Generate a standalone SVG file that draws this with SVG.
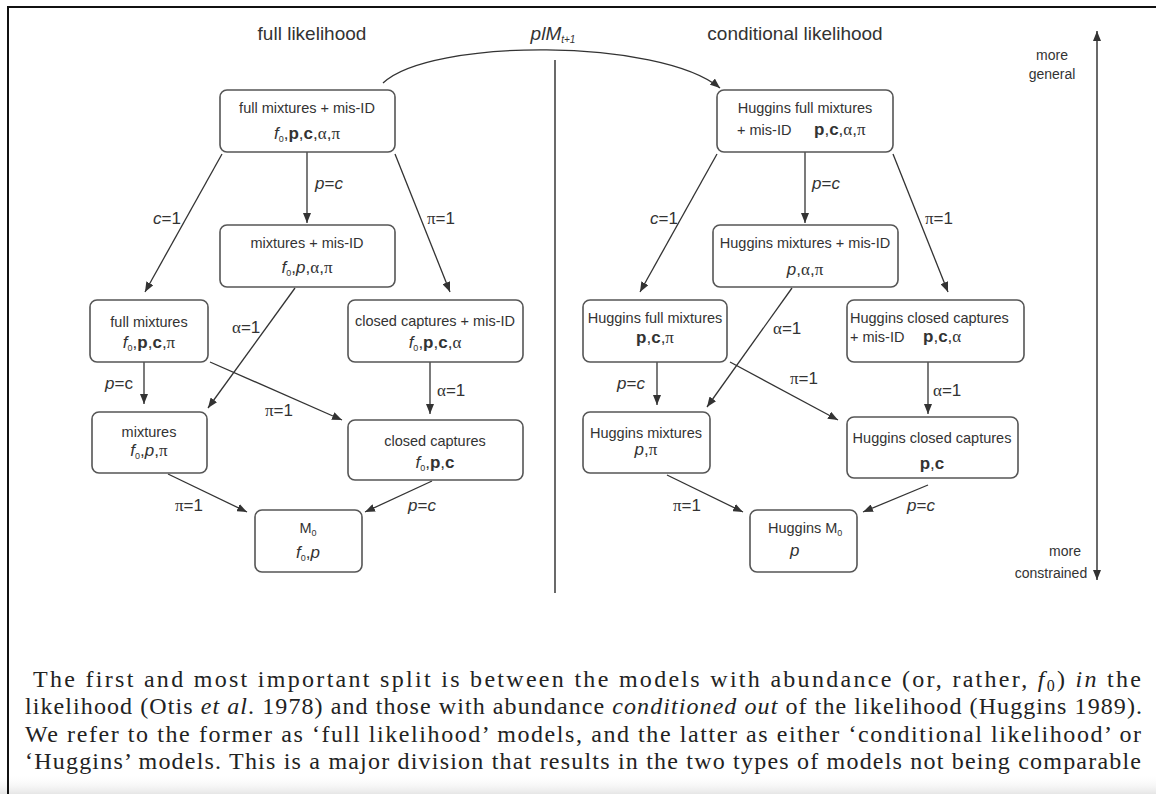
<svg xmlns="http://www.w3.org/2000/svg" width="1156" height="794" viewBox="0 0 1156 794">
<defs>
<style>
.n{font-family:"Liberation Sans",Arial,sans-serif;font-size:14.5px;fill:#333;text-anchor:middle}
.nl{font-family:"Liberation Sans",Arial,sans-serif;font-size:14.5px;fill:#333}
.m{font-family:"Liberation Sans",Arial,sans-serif;font-size:17px;fill:#333;text-anchor:middle}
.ml{font-family:"Liberation Sans",Arial,sans-serif;font-size:17px;fill:#333}
.g{font-family:"Liberation Serif","Times New Roman",serif}
.i{font-style:italic}
.b{font-weight:bold}
.lbl{font-family:"Liberation Sans",Arial,sans-serif;font-size:17px;fill:#333}
.ttl{font-family:"Liberation Sans",Arial,sans-serif;font-size:19px;fill:#333;text-anchor:middle}
.side{font-family:"Liberation Sans",Arial,sans-serif;font-size:14px;fill:#333;text-anchor:middle}
.box{fill:#fff;stroke:#555;stroke-width:1.6}
.e{stroke:#333;stroke-width:1.3;fill:none;marker-end:url(#ah)}
.para{font-family:"Liberation Serif","Times New Roman",serif;font-size:24px;fill:#222}
</style>
<marker id="ah" viewBox="0 0 10 8" refX="10" refY="4" markerWidth="10" markerHeight="8" orient="auto-start-reverse" markerUnits="userSpaceOnUse">
<path d="M0,0 L10,4 L0,8 z" fill="#333"/>
</marker>
<linearGradient id="fade" x1="0" y1="0" x2="0" y2="1">
<stop offset="0" stop-color="#fff" stop-opacity="0"/>
<stop offset="1" stop-color="#e6e6e6"/>
</linearGradient>
</defs>
<rect x="0" y="0" width="1156" height="794" fill="#fff"/>
<rect x="0" y="774" width="1156" height="20" fill="url(#fade)"/>
<path d="M8,794 L8,7 L1156,7" fill="none" stroke="#111" stroke-width="2"/>

<!-- titles -->
<text class="ttl" x="312" y="40">full likelihood</text>
<text class="ttl" x="795" y="40">conditional likelihood</text>
<text class="ttl i" x="553" y="40">plM<tspan font-size="10" dy="3">t+1</tspan></text>
<text class="side" x="1052" y="60">more</text>
<text class="side" x="1052" y="79">general</text>
<text class="side" x="1065" y="556">more</text>
<text class="side" x="1051" y="578">constrained</text>

<!-- divider -->
<line x1="555" y1="60" x2="555" y2="593" stroke="#444" stroke-width="1.6"/>

<g id="connectors">
<path class="e" d="M383,83 C430,38 660,38 720,88"/>
<line x1="1097" y1="31" x2="1097" y2="580" stroke="#444" stroke-width="1.6" marker-start="url(#ah)" marker-end="url(#ah)"/>
<!-- left -->
<line class="e" x1="222" y1="154" x2="145" y2="292"/>
<line class="e" x1="307" y1="152" x2="307" y2="223"/>
<line class="e" x1="395" y1="154" x2="450" y2="292"/>
<line class="e" x1="295" y1="288" x2="208" y2="408"/>
<line class="e" x1="144" y1="362" x2="144" y2="404"/>
<line class="e" x1="210" y1="362" x2="342" y2="420"/>
<line class="e" x1="430" y1="362" x2="430" y2="414"/>
<line class="e" x1="168" y1="474" x2="247" y2="512"/>
<line class="e" x1="432" y1="481" x2="365" y2="512"/>
<!-- right -->
<line class="e" x1="717" y1="154" x2="640" y2="292"/>
<line class="e" x1="805" y1="152" x2="805" y2="223"/>
<line class="e" x1="893" y1="154" x2="948" y2="292"/>
<line class="e" x1="792" y1="288" x2="707" y2="407"/>
<line class="e" x1="657" y1="362" x2="657" y2="405"/>
<line class="e" x1="730" y1="362" x2="838" y2="420"/>
<line class="e" x1="928" y1="362" x2="928" y2="414"/>
<line class="e" x1="667" y1="475" x2="743" y2="512"/>
<line class="e" x1="928" y1="485" x2="863" y2="512"/>
</g>

<g id="edge-labels">
<text class="lbl" x="153" y="224"><tspan class="i">c</tspan>=1</text>
<text class="lbl" x="315" y="189"><tspan class="i">p</tspan>=<tspan class="i">c</tspan></text>
<text class="lbl" x="427" y="224"><tspan class="g">π</tspan>=1</text>
<text class="lbl" x="232" y="333"><tspan class="g">α</tspan>=1</text>
<text class="lbl" x="105" y="389"><tspan class="i">p</tspan>=c</text>
<text class="lbl" x="265" y="416"><tspan class="g">π</tspan>=1</text>
<text class="lbl" x="437" y="396"><tspan class="g">α</tspan>=1</text>
<text class="lbl" x="175" y="511"><tspan class="g">π</tspan>=1</text>
<text class="lbl" x="408" y="511"><tspan class="i">p</tspan>=<tspan class="i">c</tspan></text>
<text class="lbl" x="650" y="224"><tspan class="i">c</tspan>=1</text>
<text class="lbl" x="812" y="189"><tspan class="i">p</tspan>=<tspan class="i">c</tspan></text>
<text class="lbl" x="925" y="224"><tspan class="g">π</tspan>=1</text>
<text class="lbl" x="773" y="334"><tspan class="g">α</tspan>=1</text>
<text class="lbl" x="617" y="389"><tspan class="i">p</tspan>=<tspan class="i">c</tspan></text>
<text class="lbl" x="790" y="384"><tspan class="g">π</tspan>=1</text>
<text class="lbl" x="933" y="396"><tspan class="g">α</tspan>=1</text>
<text class="lbl" x="673" y="511"><tspan class="g">π</tspan>=1</text>
<text class="lbl" x="907" y="511"><tspan class="i">p</tspan>=<tspan class="i">c</tspan></text>
</g>

<!-- left nodes -->
<g id="full-mixtures-misid">
<rect class="box" x="220" y="90" width="175" height="62" rx="7"/>
<text class="n" x="307" y="113">full mixtures + mis-ID</text>
<text class="m" x="307" y="139"><tspan class="i">f</tspan><tspan font-size="9" dy="3">0</tspan><tspan dy="-3">,</tspan><tspan class="b">p</tspan>,<tspan class="b">c</tspan>,<tspan class="g">α</tspan>,<tspan class="g">π</tspan></text>
</g>
<g id="mixtures-misid">
<rect class="box" x="220" y="225" width="175" height="62" rx="7"/>
<text class="n" x="307" y="248">mixtures + mis-ID</text>
<text class="m" x="307" y="273"><tspan class="i">f</tspan><tspan font-size="9" dy="3">0</tspan><tspan dy="-3">,</tspan><tspan class="i">p</tspan>,<tspan class="g">α</tspan>,<tspan class="g">π</tspan></text>
</g>
<g id="full-mixtures">
<rect class="box" x="90" y="300" width="118" height="62" rx="7"/>
<text class="n" x="149" y="327">full mixtures</text>
<text class="m" x="149" y="348"><tspan class="i">f</tspan><tspan font-size="9" dy="3">0</tspan><tspan dy="-3">,</tspan><tspan class="b">p</tspan>,<tspan class="b">c</tspan>,<tspan class="g">π</tspan></text>
</g>
<g id="closed-captures-misid">
<rect class="box" x="348" y="300" width="175" height="62" rx="7"/>
<text class="n" x="435" y="326">closed captures + mis-ID</text>
<text class="m" x="435" y="348"><tspan class="i">f</tspan><tspan font-size="9" dy="3">0</tspan><tspan dy="-3">,</tspan><tspan class="b">p</tspan>,<tspan class="b">c</tspan>,<tspan class="g">α</tspan></text>
</g>
<g id="mixtures">
<rect class="box" x="92" y="412" width="115" height="61" rx="7"/>
<text class="n" x="149" y="437">mixtures</text>
<text class="m" x="149" y="456"><tspan class="i">f</tspan><tspan font-size="9" dy="3">0</tspan><tspan dy="-3">,</tspan><tspan class="i">p</tspan>,<tspan class="g">π</tspan></text>
</g>
<g id="closed-captures">
<rect class="box" x="348" y="420" width="175" height="60" rx="7"/>
<text class="n" x="435" y="446">closed captures</text>
<text class="m" x="435" y="468"><tspan class="i">f</tspan><tspan font-size="9" dy="3">0</tspan><tspan dy="-3">,</tspan><tspan class="b">p</tspan>,<tspan class="b">c</tspan></text>
</g>
<g id="m0">
<rect class="box" x="255" y="510" width="107" height="62" rx="7"/>
<text class="n" x="308" y="533">M<tspan font-size="9" dy="3">0</tspan></text>
<text class="m" x="308" y="558"><tspan class="i">f</tspan><tspan font-size="9" dy="3">0</tspan><tspan dy="-3">,</tspan><tspan class="i">p</tspan></text>
</g>

<!-- right nodes -->
<g id="huggins-full-mixtures-misid">
<rect class="box" x="717" y="90" width="176" height="62" rx="7"/>
<text class="n" x="805" y="113">Huggins full mixtures</text>
<text class="nl" x="737" y="135">+ mis-ID</text>
<text class="ml" x="814" y="135"><tspan class="b">p</tspan>,<tspan class="b">c</tspan>,<tspan class="g">α</tspan>,<tspan class="g">π</tspan></text>
</g>
<g id="huggins-mixtures-misid">
<rect class="box" x="713" y="225" width="185" height="62" rx="7"/>
<text class="n" x="805" y="248">Huggins mixtures + mis-ID</text>
<text class="m" x="805" y="275"><tspan class="i">p</tspan>,<tspan class="g">α</tspan>,<tspan class="g">π</tspan></text>
</g>
<g id="huggins-full-mixtures">
<rect class="box" x="583" y="300" width="144" height="62" rx="7"/>
<text class="n" x="655" y="323">Huggins full mixtures</text>
<text class="m" x="655" y="343"><tspan class="b">p</tspan>,<tspan class="b">c</tspan>,<tspan class="g">π</tspan></text>
</g>
<g id="huggins-closed-captures-misid">
<rect class="box" x="847" y="300" width="177" height="62" rx="7"/>
<text class="nl" x="850" y="323">Huggins closed captures</text>
<text class="nl" x="850" y="342">+ mis-ID</text>
<text class="ml" x="923" y="342"><tspan class="b">p</tspan>,<tspan class="b">c</tspan>,<tspan class="g">α</tspan></text>
</g>
<g id="huggins-mixtures">
<rect class="box" x="583" y="412" width="127" height="61" rx="7"/>
<text class="n" x="646" y="438">Huggins mixtures</text>
<text class="m" x="646" y="455"><tspan class="i">p</tspan>,<tspan class="g">π</tspan></text>
</g>
<g id="huggins-closed-captures">
<rect class="box" x="847" y="417" width="171" height="61" rx="7"/>
<text class="n" x="932" y="443">Huggins closed captures</text>
<text class="m" x="932" y="469"><tspan class="b">p</tspan>,<tspan class="b">c</tspan></text>
</g>
<g id="huggins-m0">
<rect class="box" x="750" y="510" width="107" height="62" rx="7"/>
<text class="nl" x="768" y="533">Huggins M<tspan font-size="9" dy="3">0</tspan></text>
<text class="ml i" x="790" y="556">p</text>
</g>

<!-- paragraph -->
<g id="paragraph">
<text class="para" x="33" y="687" textLength="1108" lengthAdjust="spacing">The first and most important split is between the models with abundance (or, rather, <tspan font-style="italic">f</tspan><tspan font-size="16" dy="4">0</tspan><tspan dy="-4">) </tspan><tspan font-style="italic">in</tspan> the</text>
<text class="para" x="25" y="714" textLength="1117" lengthAdjust="spacing">likelihood (Otis <tspan font-style="italic">et al</tspan>. 1978) and those with abundance <tspan font-style="italic">conditioned out</tspan> of the likelihood (Huggins 1989).</text>
<text class="para" x="25" y="742" textLength="1116" lengthAdjust="spacing">We refer to the former as ‘full likelihood’ models, and the latter as either ‘conditional likelihood’ or</text>
<text class="para" x="25" y="769" textLength="1116" lengthAdjust="spacing">‘Huggins’ models. This is a major division that results in the two types of models not being comparable</text>
</g>
</svg>
